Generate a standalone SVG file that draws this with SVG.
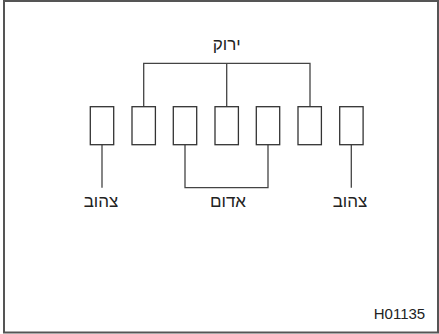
<svg xmlns="http://www.w3.org/2000/svg" width="439" height="334" viewBox="0 0 439 334">
<style>
.box{fill:#fff;stroke:#333;stroke-width:1.3}
.ln{fill:none;stroke:#444;stroke-width:1.3}
.t{font-family:"Liberation Sans",Arial,sans-serif;font-size:17px;fill:#222;text-anchor:middle}
.code{font-family:"Liberation Sans",Arial,sans-serif;font-size:15px;fill:#222;text-anchor:middle}
</style>
<rect x="0" y="0" width="439" height="334" fill="#fff"/>
<rect x="4" y="1" width="434" height="331.5" fill="none" stroke="#555" stroke-width="2"/>
<g id="connectors">
<path class="ln" d="M143.7,106.7 V63.3 H310 V106.7 M226.7,63.3 V106.7"/>
<path class="ln" d="M185,144.7 V187.7 H268 V144.7"/>
<path class="ln" d="M102,144.7 V187.7"/>
<path class="ln" d="M351.3,144.7 V187.7"/>
</g>
<g id="pin1"><rect class="box" x="90.3" y="106.7" width="23.4" height="38"/></g>
<g id="pin2"><rect class="box" x="132" y="106.7" width="23.4" height="38"/></g>
<g id="pin3"><rect class="box" x="173.3" y="106.7" width="23.4" height="38"/></g>
<g id="pin4"><rect class="box" x="215" y="106.7" width="23.4" height="38"/></g>
<g id="pin5"><rect class="box" x="256.3" y="106.7" width="23.4" height="38"/></g>
<g id="pin6"><rect class="box" x="298" y="106.7" width="23.4" height="38"/></g>
<g id="pin7"><rect class="box" x="339.7" y="106.7" width="23.4" height="38"/></g>
<g id="label-green"><text class="t" x="226.7" y="50" direction="rtl" style="text-anchor:middle">ירוק</text></g>
<g id="label-yellow-left"><text class="t" x="101" y="207" direction="rtl">צהוב</text></g>
<g id="label-red"><text class="t" x="228" y="207" direction="rtl">אדום</text></g>
<g id="label-yellow-right"><text class="t" x="350" y="207" direction="rtl">צהוב</text></g>
<g id="code"><text class="code" x="399.5" y="319">H01135</text></g>
</svg>
